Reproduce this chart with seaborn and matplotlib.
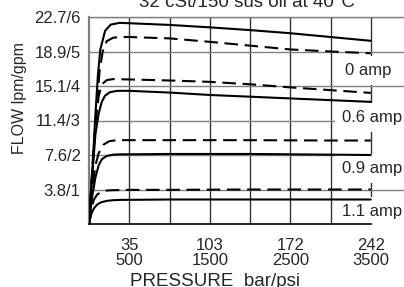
import pandas as pd
import matplotlib.pyplot as plt
import seaborn as sns

sns.set_style('white')
plt.rcParams['font.family'] = ['Liberation Sans', 'DejaVu Sans']

# axis ticks (flow in lpm/gpm, pressure in bar/psi)
flow_ticks = [1, 2, 3, 4, 5, 6]
flow_labels = ['3.8/1', '7.6/2', '11.4/3', '15.1/4', '18.9/5', '22.7/6']
press_ticks = [500, 1500, 2500, 3500]
press_labels = ['35\n500', '103\n1500', '172\n2500', '242\n3500']
press_minor = [1000, 2000, 3000]

# curves: psi vs gpm
amp0_solid_psi = [0, 40, 75, 110, 140, 200, 270, 380, 500, 1000, 1500, 2000, 2500, 3000, 3500]
amp0_solid_gpm = [0, 1.5, 3.0, 4.3, 5.05, 5.6, 5.78, 5.83, 5.82, 5.77, 5.70, 5.62, 5.53, 5.42, 5.31]
amp0_dash_psi = [0, 50, 90, 130, 170, 220, 300, 400, 500, 1000, 1500, 2000, 2500, 3000, 3500]
amp0_dash_gpm = [0, 1.8, 3.2, 4.4, 5.0, 5.3, 5.40, 5.42, 5.42, 5.38, 5.28, 5.17, 5.06, 5.00, 4.95]
amp06_dash_psi = [0, 40, 80, 120, 160, 220, 300, 500, 1000, 1500, 2000, 2500, 3000, 3500]
amp06_dash_gpm = [0, 1.6, 2.9, 3.7, 4.05, 4.17, 4.2, 4.19, 4.16, 4.12, 4.05, 3.96, 3.88, 3.80]
amp06_solid_psi = [0, 40, 80, 120, 160, 200, 260, 350, 500, 1000, 1500, 2000, 2500, 3000, 3500]
amp06_solid_gpm = [0, 1.4, 2.6, 3.2, 3.55, 3.72, 3.82, 3.86, 3.86, 3.81, 3.74, 3.69, 3.64, 3.59, 3.54]
amp09_dash_psi = [0, 40, 80, 120, 180, 250, 350, 500, 1000, 2000, 3000, 3500]
amp09_dash_gpm = [0, 1.0, 1.7, 2.05, 2.3, 2.4, 2.43, 2.43, 2.43, 2.43, 2.42, 2.42]
amp09_solid_psi = [0, 40, 80, 120, 160, 220, 300, 400, 500, 1000, 2000, 3000, 3500]
amp09_solid_gpm = [0, 0.8, 1.35, 1.7, 1.88, 1.97, 2.01, 2.02, 2.02, 2.03, 2.03, 2.01, 2.0]
amp11_dash_psi = [0, 30, 60, 100, 150, 220, 300, 500, 1000, 2000, 3000, 3500]
amp11_dash_gpm = [0, 0.45, 0.7, 0.85, 0.93, 0.97, 0.98, 0.99, 0.99, 1.0, 1.0, 1.0]
amp11_solid_psi = [0, 30, 60, 100, 150, 220, 300, 400, 500, 1000, 2000, 3000, 3500]
amp11_solid_gpm = [0, 0.3, 0.45, 0.56, 0.63, 0.67, 0.69, 0.70, 0.70, 0.71, 0.71, 0.71, 0.71]

curves = [
    (amp0_solid_psi, amp0_solid_gpm, '-'),
    (amp0_dash_psi, amp0_dash_gpm, '--'),
    (amp06_dash_psi, amp06_dash_gpm, '--'),
    (amp06_solid_psi, amp06_solid_gpm, '-'),
    (amp09_dash_psi, amp09_dash_gpm, '--'),
    (amp09_solid_psi, amp09_solid_gpm, '-'),
    (amp11_dash_psi, amp11_dash_gpm, '--'),
    (amp11_solid_psi, amp11_solid_gpm, '-'),
]

amp_labels = ['0 amp', '0.6 amp', '0.9 amp', '1.1 amp']
amp_label_x = [3470, 3516, 3516, 3516]
amp_label_y = [4.46, 3.1, 1.62, 0.35]

fig = plt.figure(figsize=(4.04, 2.87), dpi=100)
ax = fig.add_axes([89 / 404, 1 - 224 / 287, 1 - 89 / 404, (224 - 17) / 287])

for psi, gpm, ls in curves:
    df = pd.DataFrame({'psi': psi, 'gpm': gpm})
    sns.lineplot(data=df, x='psi', y='gpm', ax=ax, color='black',
                 linewidth=1.5, sort=False, estimator=None, zorder=3)
    if ls == '--':
        ax.lines[-1].set_dashes((6.5, 3.2))

for txt, x, y in zip(amp_labels, amp_label_x, amp_label_y):
    ax.text(x, y, txt, ha='center', va='center', fontsize=12, zorder=2,
            bbox=dict(facecolor='white', edgecolor='none', pad=5))

ax.set_xlim(0, 3913)
ax.set_ylim(0, 6)
ax.set_xticks(press_ticks)
ax.set_xticklabels(press_labels, fontsize=12, linespacing=1.0)
ax.set_xticks(press_minor, minor=True)
ax.set_yticks(flow_ticks)
ax.set_yticklabels(flow_labels, fontsize=12)

ax.set_axisbelow(True)
ax.grid(True, axis='x', which='both', color='#333333', linewidth=1.0)
ax.grid(True, axis='y', which='major', color='#808080', linewidth=1.0)
ax.tick_params(axis='x', which='major', length=3, width=1, pad=7, color='black')
ax.tick_params(axis='x', which='minor', length=0)
ax.tick_params(axis='y', length=0, pad=6)

ax.spines['right'].set_visible(False)
ax.spines['top'].set_color('#808080')
ax.spines['top'].set_linewidth(1.0)
ax.spines['left'].set_color('#808080')
ax.spines['left'].set_linewidth(1.6)
ax.spines['bottom'].set_color('black')
ax.spines['bottom'].set_linewidth(1.2)
ax.spines['bottom'].set_bounds(0, 3500)
ax.set_xlabel('')
ax.set_ylabel('')

fig.text(246.5 / 404, 1 - 7 / 287, '32 cSt/150 sus oil at 40°C', ha='center',
         va='baseline', fontsize=13.5)
fig.text(215 / 404, 1 / 287, 'PRESSURE  bar/psi', ha='center', va='baseline',
         fontsize=13.5)
fig.text(20 / 404, 1 - 98 / 287, 'FLOW lpm/gpm', ha='center', va='center',
         rotation=90, fontsize=11.5)

fig.savefig('out.png', dpi=100)
